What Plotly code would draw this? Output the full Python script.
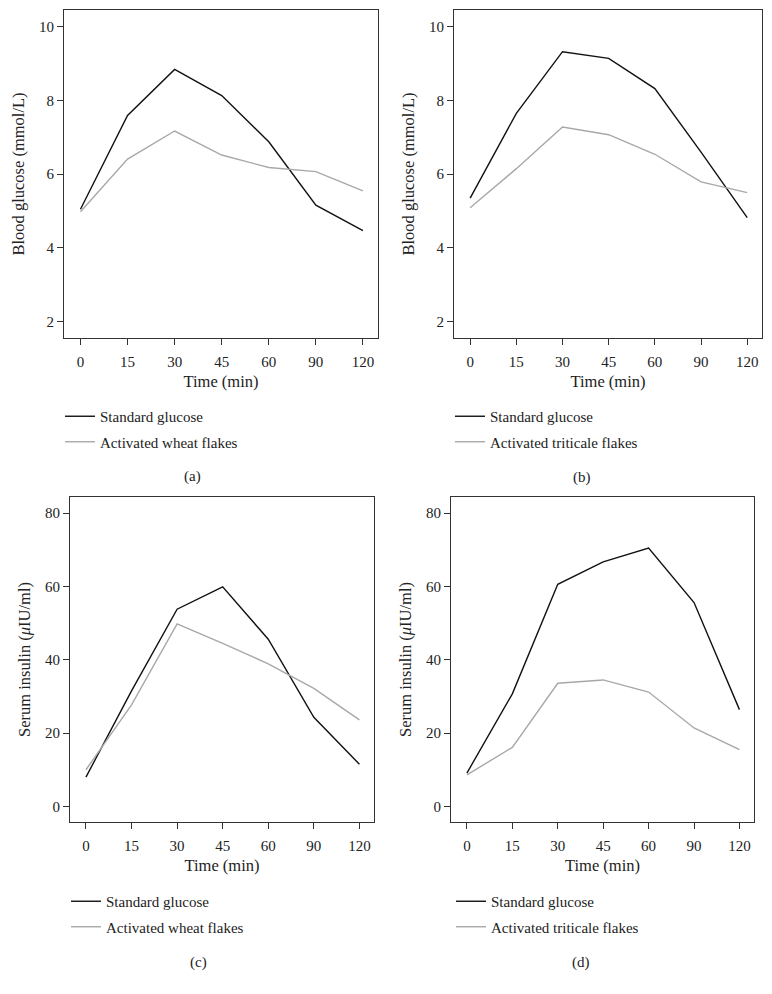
import plotly.graph_objects as go

# ---- data ----
time_labels = ["0", "15", "30", "45", "60", "90", "120"]

glucose_std_a = [5.05, 7.59, 8.84, 8.13, 6.88, 5.16, 4.47]
glucose_wheat = [4.98, 6.41, 7.17, 6.52, 6.18, 6.07, 5.55]

glucose_std_b = [5.35, 7.65, 9.32, 9.14, 8.32, 6.60, 4.82]
glucose_triticale = [5.09, 6.15, 7.28, 7.07, 6.54, 5.79, 5.50]

insulin_std_c = [8.0, 31.5, 53.8, 59.9, 45.6, 24.3, 11.5]
insulin_wheat = [10.0, 27.7, 49.8, 44.5, 38.9, 32.2, 23.6]

insulin_std_d = [9.1, 30.7, 60.6, 66.7, 70.5, 55.6, 26.4]
insulin_triticale = [8.6, 16.1, 33.6, 34.5, 31.2, 21.4, 15.5]

glucose_ticks = [2, 4, 6, 8, 10]
insulin_ticks = [0, 20, 40, 60, 80]

panels = [
    dict(name="a", std=glucose_std_a, test=glucose_wheat, test_name="Activated wheat flakes",
         ytitle="Blood glucose (mmol/L)", yticks=glucose_ticks, yrange=[1.56, 10.45]),
    dict(name="b", std=glucose_std_b, test=glucose_triticale, test_name="Activated triticale flakes",
         ytitle="Blood glucose (mmol/L)", yticks=glucose_ticks, yrange=[1.56, 10.45]),
    dict(name="c", std=insulin_std_c, test=insulin_wheat, test_name="Activated wheat flakes",
         ytitle="Serum insulin (<i>μ</i>IU/ml)", yticks=insulin_ticks, yrange=[-4.25, 84.4]),
    dict(name="d", std=insulin_std_d, test=insulin_triticale, test_name="Activated triticale flakes",
         ytitle="Serum insulin (<i>μ</i>IU/ml)", yticks=insulin_ticks, yrange=[-4.25, 84.4]),
]

# page is drawn with an 8px body margin, so work in page pixels and subtract it
OFF = 8
W, H = 772 - OFF, 994 - OFF
FONT = "Liberation Serif"
TXT = "#222222"

# plot-box page-pixel geometry (left, right, top, bottom)
boxes = [
    (64, 378, 10, 338),
    (454, 762, 10, 338),
    (70, 374, 497, 822),
    (451, 754, 497, 822),
]
# legend top-left / panel label page-pixel positions
legend_px = [(60, 400), (450, 400), (66, 885), (451, 885)]
label_px = [(192, 476), (582, 477), (198, 962), (581, 962)]


def fx(px):
    return (px - OFF) / W


def fy(py):
    return 1 - (py - OFF) / H


x_idx = list(range(len(time_labels)))

fig = go.Figure()
annotations = []
layout = {}

for i, p in enumerate(panels):
    n = i + 1
    xa = "x" if n == 1 else f"x{n}"
    ya = "y" if n == 1 else f"y{n}"
    lg = "legend" if n == 1 else f"legend{n}"
    fig.add_trace(go.Scatter(x=x_idx, y=p["std"], mode="lines", name="Standard glucose",
                             line=dict(color="#111111", width=1.4), xaxis=xa, yaxis=ya,
                             legend=lg, legendgroup=f"s{n}"))
    fig.add_trace(go.Scatter(x=x_idx, y=p["test"], mode="lines", name=p["test_name"],
                             line=dict(color="#a8a8a8", width=1.4), xaxis=xa, yaxis=ya,
                             legend=lg, legendgroup=f"t{n}"))
    l, r, t, b = boxes[i]
    axis_common = dict(showline=True, linecolor="#333333", linewidth=1, mirror=True,
                       ticks="outside", ticklen=6, tickcolor="#333333", tickwidth=1,
                       showgrid=False, zeroline=False,
                       tickfont=dict(family=FONT, size=15, color=TXT))
    layout[f"xaxis{'' if n == 1 else n}"] = dict(
        domain=[fx(l), fx(r)], anchor=ya, range=[-0.35, 6.32],
        tickmode="array", tickvals=x_idx, ticktext=time_labels, ticklabelstandoff=4,
        title=dict(text="Time (min)", font=dict(family=FONT, size=16.5, color=TXT), standoff=6),
        **axis_common)
    layout[f"yaxis{'' if n == 1 else n}"] = dict(
        domain=[fy(b), fy(t)], anchor=xa, range=p["yrange"],
        tickmode="array", tickvals=p["yticks"],
        title=dict(text=p["ytitle"], font=dict(family=FONT, size=16.5, color=TXT), standoff=10),
        **axis_common)
    lx, ly = legend_px[i]
    layout[lg] = dict(x=fx(lx), y=fy(ly), xanchor="left", yanchor="top",
                      font=dict(family=FONT, size=15, color=TXT), bgcolor="rgba(0,0,0,0)",
                      tracegroupgap=3, orientation="v")
    ax, ay = label_px[i]
    annotations.append(dict(text=f"({p['name']})", x=fx(ax), y=fy(ay), xref="paper", yref="paper",
                            showarrow=False, xanchor="center", yanchor="middle",
                            font=dict(family=FONT, size=15, color=TXT)))

fig.update_layout(width=W, height=H, margin=dict(l=0, r=0, t=0, b=0),
                  paper_bgcolor="white", plot_bgcolor="white", showlegend=True,
                  annotations=annotations, **layout)

fig.write_html("out.html")
